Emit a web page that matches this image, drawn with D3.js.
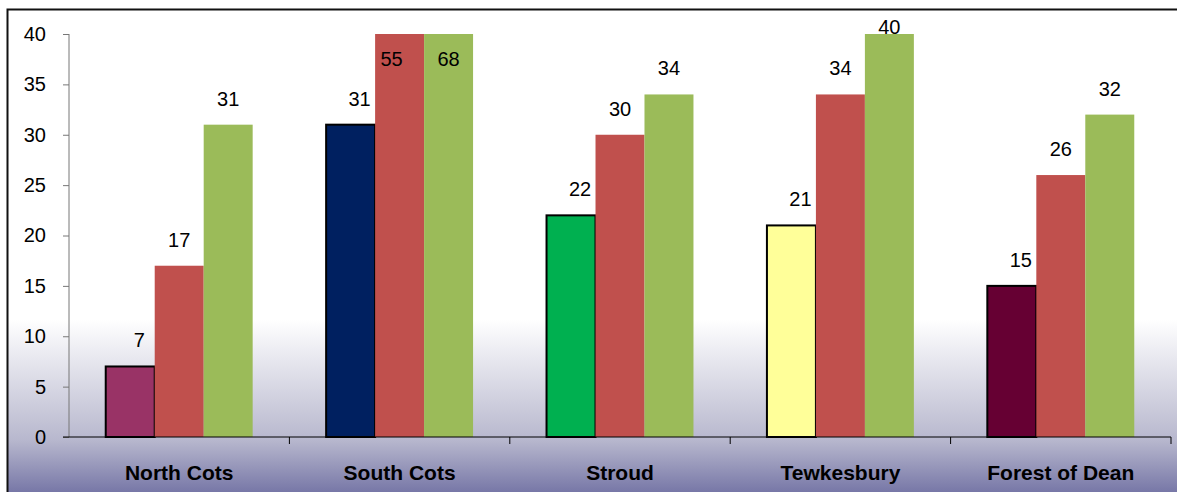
<!DOCTYPE html>
<html>
<head>
<meta charset="utf-8">
<script src="https://cdn.jsdelivr.net/npm/d3@7"></script>
<style>
  body { margin: 0; background: #fff; }
  text { font-family: Arial, "Liberation Sans", sans-serif; }
</style>
</head>
<body>
<script>
// data
var categories = ["North Cots", "South Cots", "Stroud", "Tewkesbury", "Forest of Dean"];
var series1 = [7, 31, 22, 21, 15];
var series2 = [17, 55, 30, 34, 26];
var series3 = [31, 68, 34, 40, 32];
var firstColors = ["#993366", "#002060", "#00B050", "#FFFF99", "#660033"];
var seriesColors = [null, "#C0504D", "#9BBB59"];
var yTicks = [0, 5, 10, 15, 20, 25, 30, 35, 40];

var width = 1177,
    height = 492;

var svg = d3.select("body").append("svg")
    .attr("width", width)
    .attr("height", height);

// background gradient
var grad = svg.append("defs").append("linearGradient")
    .attr("id", "bg")
    .attr("x1", 0).attr("y1", 0).attr("x2", 0).attr("y2", 1);
grad.append("stop").attr("offset", "0").attr("stop-color", "#ffffff");
grad.append("stop").attr("offset", "0.62").attr("stop-color", "#ffffff");
grad.append("stop").attr("offset", "0.86").attr("stop-color", "#b8b8ce");
grad.append("stop").attr("offset", "1").attr("stop-color", "#62629a");

svg.append("rect")
    .attr("x", 7.5).attr("y", 9.5)
    .attr("width", 1190).attr("height", 500)
    .attr("fill", "url(#bg)")
    .attr("stroke", "#111")
    .attr("stroke-width", 2);

var x = d3.scaleBand()
    .domain(categories)
    .range([69, 1171])
    .paddingInner(0)
    .paddingOuter(0);

var y = d3.scaleLinear()
    .domain([0, 40])
    .range([437, 34]);

var inner = d3.scaleBand()
    .domain([0, 1, 2])
    .range([x.bandwidth() / 6, x.bandwidth() * 5 / 6]);

var rows = [];
categories.forEach(function(c, i) {
  [series1, series2, series3].forEach(function(s, j) {
    rows.push({cat: c, i: i, s: j, value: s[i]});
  });
});

// bars (clipped at the top of the axis)
svg.append("g")
  .selectAll("rect")
  .data(rows)
  .enter().append("rect")
    .attr("x", function(d) { return x(d.cat) + inner(d.s); })
    .attr("y", function(d) { return y(Math.min(d.value, 40)); })
    .attr("width", inner.bandwidth())
    .attr("height", function(d) { return y(0) - y(Math.min(d.value, 40)); })
    .attr("fill", function(d) { return d.s == 0 ? firstColors[d.i] : seriesColors[d.s]; })
    .attr("stroke", function(d) { return d.s == 0 ? "#000" : "none"; })
    .attr("stroke-width", 2);

// y axis
var yAxis = svg.append("g")
    .attr("transform", "translate(69,0)")
    .call(d3.axisLeft(y).tickValues(yTicks).tickSize(6).tickPadding(17));
yAxis.select(".domain").attr("stroke", "#777").attr("d", "M0," + y(40) + "V" + y(0));
yAxis.selectAll(".tick line").attr("stroke", "#777");
yAxis.selectAll("text")
    .attr("font-size", 20)
    .attr("fill", "#000")
    .attr("font-family", "Arial, 'Liberation Sans', sans-serif");

// x axis
var xAxis = svg.append("g")
    .attr("transform", "translate(0," + y(0) + ")");
xAxis.append("line")
    .attr("x1", 63).attr("x2", 1171)
    .attr("stroke", "#000");
xAxis.selectAll(".xt")
  .data(categories)
  .enter().append("line")
    .attr("class", "xt")
    .attr("x1", function(d) { return x(d) + x.bandwidth(); })
    .attr("x2", function(d) { return x(d) + x.bandwidth(); })
    .attr("y1", 0).attr("y2", 7)
    .attr("stroke", "#000");
xAxis.selectAll(".xl")
  .data(categories)
  .enter().append("text")
    .attr("x", function(d) { return x(d) + x.bandwidth() / 2; })
    .attr("y", 43)
    .attr("text-anchor", "middle")
    .attr("font-size", 21)
    .attr("font-weight", "bold")
    .text(function(d) { return d; });

// value labels
svg.append("g")
  .selectAll("text")
  .data(rows)
  .enter().append("text")
    .attr("x", function(d) {
      var cx = x(d.cat) + inner(d.s) + inner.bandwidth() / 2;
      if (d.value > 40 && d.s == 1) return cx - 8;
      return d.s == 0 ? cx + 9 : cx;
    })
    .attr("y", function(d) {
      if (d.value > 40) return y(40) + 32;
      return Math.max(y(d.value) - 19, 34);
    })
    .attr("text-anchor", "middle")
    .attr("font-size", 20)
    .attr("fill", "#000")
    .text(function(d) { return d.value; });
</script>
</body>
</html>
